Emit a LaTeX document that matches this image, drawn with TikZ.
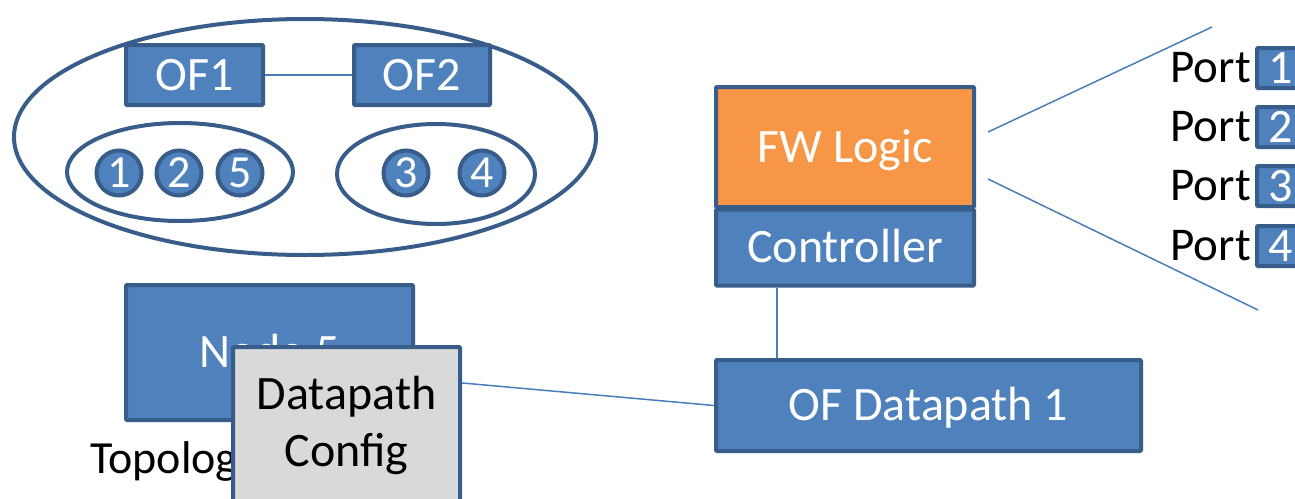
\documentclass[tikz,border=0pt]{standalone}
\usepackage{fontspec}
\setmainfont{Carlito}
\usetikzlibrary{calc,shapes.geometric}
\definecolor{bfill}{HTML}{4F81BD}
\definecolor{bline}{HTML}{385D8A}
\definecolor{ofill}{HTML}{F79646}
\definecolor{gfill}{HTML}{D9D9D9}
\definecolor{conn}{HTML}{4A7EBB}
\tikzset{
  bluebox/.style={draw=bline,fill=bfill,line width=4pt,text=white,rounded corners=1pt,inner sep=0pt,font=\fontsize{48}{56}\selectfont,text height=30.9pt,text depth=0pt},
  orangebox/.style={bluebox,fill=ofill},
  graybox/.style={draw=bline,fill=gfill,line width=4pt,text=black,rounded corners=1pt,inner sep=0pt},
  numcircle/.style={draw=bline,fill=bfill,line width=4pt,text=white,circle,inner sep=0pt,minimum size=45pt,font=\fontsize{46}{50}\selectfont,text height=29pt,text depth=0pt},
  group/.style={draw=bline,line width=4pt,ellipse,inner sep=0pt},
  connector/.style={draw=conn,line width=1.5pt},
  plain/.style={inner sep=0pt,font=\fontsize{47}{52}\selectfont,text=black},
}
\begin{document}
\begin{tikzpicture}[x=1pt,y=-1pt]
\useasboundingbox (0,0) rectangle (1295,498);
% groups
\node[group,minimum width=582pt,minimum height=236pt] (all) at (305,137) {};
\node[group,minimum width=226pt,minimum height=98pt] (gl) at (180,172) {};
\node[group,minimum width=198pt,minimum height=100pt] (gr) at (436,174) {};
\node[numcircle] (n1) at (119,173) {1};
\node[numcircle] (n2) at (179,173) {2};
\node[numcircle] (n5) at (240,173) {5};
\node[numcircle] (n3) at (406,173) {3};
\node[numcircle] (n4) at (482,173) {4};
\node[bluebox,minimum width=137pt,minimum height=60pt] (of1) at (194.5,75) {OF1};
\node[bluebox,minimum width=136pt,minimum height=60pt] (of2) at (422,75) {OF2};
\draw[connector] (of1.east) -- (of2.west);
% node 5 and config
\node[bluebox,minimum width=287pt,minimum height=135pt] (node5) at (269.5,352.5) {Node 5};
\node[plain,anchor=base west,font=\fontsize{46}{52}\selectfont] (topo) at (90,473) {Topology};
\node[graybox,minimum width=227pt,minimum height=156pt,align=center,font=\fontsize{48}{57}\selectfont] (dc) at (346.5,425) {Datapath\\Config};
% controller
\node[orangebox,minimum width=258pt,minimum height=120pt] (fw) at (845,147) {FW Logic};
\node[bluebox,minimum width=258pt,minimum height=76pt] (ctrl) at (845,247.5) {Controller};
\node[bluebox,minimum width=425pt,minimum height=91pt] (ofdp) at (928.5,405.5) {OF Datapath 1};
\coordinate (c1) at ($(ctrl.south west)!0.24!(ctrl.south east)$);
\draw[connector] (c1) -- (c1 |- ofdp.north);
\draw[connector] (dc.20) -- (ofdp.west);
% ports
\coordinate (fa) at (988,132);
\coordinate (fb) at (1212,27);
\coordinate (fc) at (988,179);
\coordinate (fd) at (1258,310);
\draw[connector] (fa) -- (fb);
\draw[connector] (fc) -- (fd);
\foreach \i/\b in {1/82,2/141,3/200,4/260}{
  \node[plain,anchor=base east] (pt\i) at (1251,\b) {Port};
  \node[bluebox,anchor=west,minimum height=40pt,inner xsep=11pt,text height=30.3pt] (pb\i) at (1255,\b-14) {\i};
}
\end{tikzpicture}
\end{document}
